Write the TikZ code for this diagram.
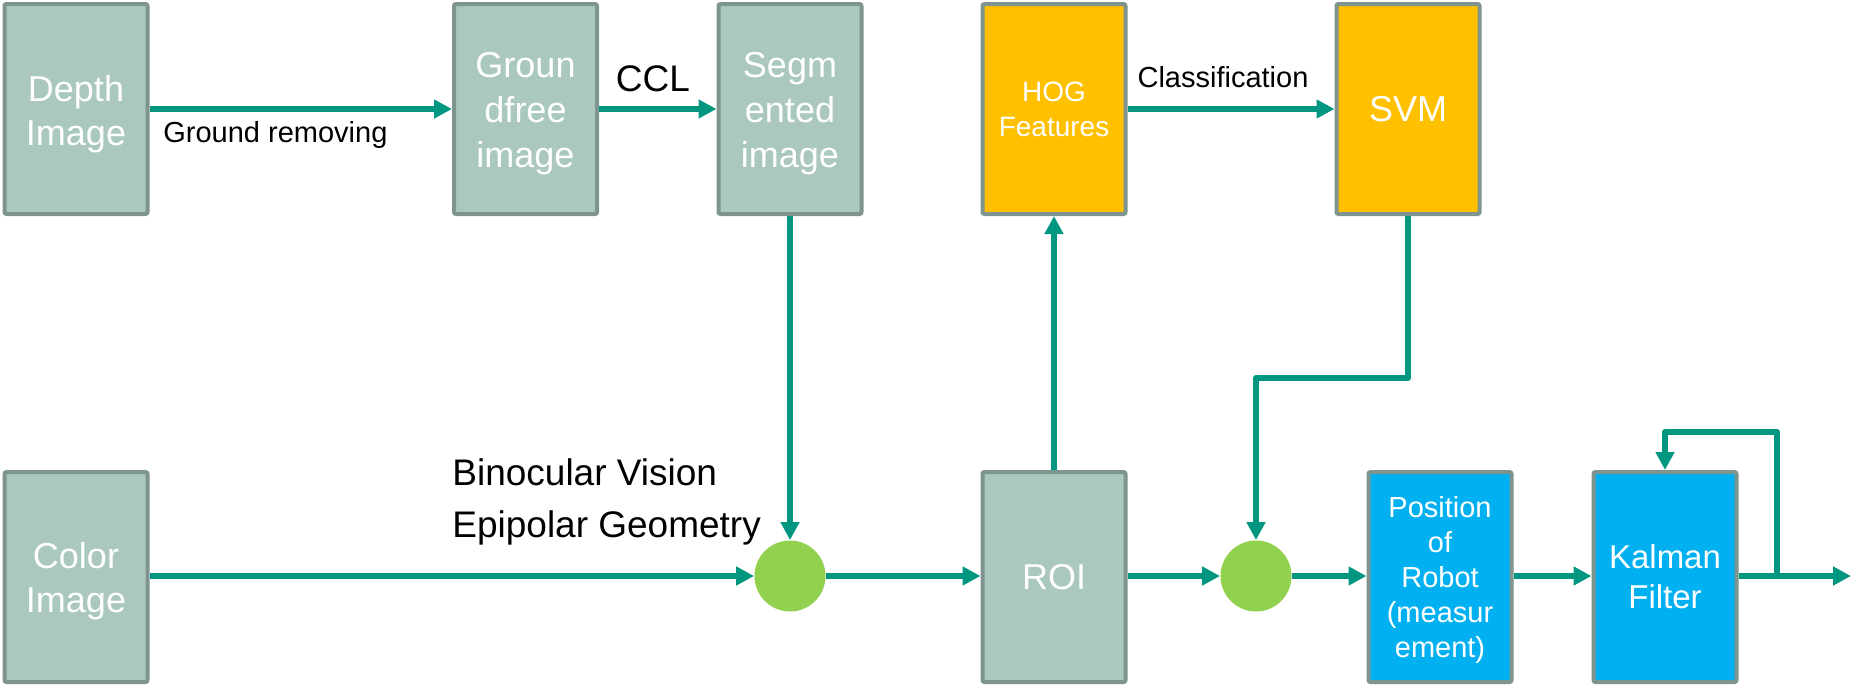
\documentclass[tikz,border=0pt]{standalone}
\usepackage{fontspec}
\setmainfont{Liberation Sans}
\usetikzlibrary{arrows.meta}
\definecolor{boxfill}{RGB}{170,200,192}
\definecolor{boxline}{RGB}{126,148,142}
\definecolor{arrowteal}{RGB}{0,150,128}
\definecolor{hogyellow}{RGB}{255,192,0}
\definecolor{kblue}{RGB}{0,176,240}
\definecolor{dotgreen}{RGB}{146,208,80}
\begin{document}
\begin{tikzpicture}[x=0.5pt,y=-0.5pt,
  box/.style={draw=boxline, line width=2pt, minimum width=71.5pt, minimum height=105pt,
    inner sep=0pt, align=center, text=white, rounded corners=1pt},
  graybox/.style={box, fill=boxfill, font=\fontsize{18}{22.5}\selectfont},
  yellowbox/.style={box, fill=hogyellow},
  bluebox/.style={box, fill=kblue},
  boxtext/.style={inner sep=0pt, align=center, text=white},
  flow/.style={draw=arrowteal, line width=3pt, line join=round,
    -{Triangle[length=9pt,width=9pt]}},
  junction/.style={circle, fill=dotgreen, minimum size=35.5pt, inner sep=0pt},
  lbl/.style={text=black, inner sep=0pt}]
\useasboundingbox (0,0) rectangle (1875,685);
% top row
\node[graybox] (depth) at (76,109) {};
\node[boxtext, font=\fontsize{18}{22}\selectfont] (depth-t) at (76,114) {Depth\\Image};
\node[graybox] (ground) at (525.5,109) {};
\node[boxtext, font=\fontsize{18}{22.5}\selectfont] (ground-t) at (525.5,114) {Groun\\dfree\\image};
\node[graybox] (seg) at (790,109) {};
\node[boxtext, font=\fontsize{18}{22.5}\selectfont] (seg-t) at (790,114) {Segm\\ented\\image};
\node[yellowbox, font=\fontsize{14}{17.5}\selectfont] (hog) at (1054,109) {HOG\\Features};
\node[yellowbox, font=\fontsize{18}{22}\selectfont] (svm) at (1408,109) {SVM};
% bottom row
\node[graybox] (color) at (76,577) {};
\node[boxtext, font=\fontsize{18}{22}\selectfont] (color-t) at (76,581) {Color\\Image};
\node[junction] (j1) at (790,576) {};
\node[graybox] (roi) at (1054,577) {ROI};
\node[junction] (j2) at (1256,576) {};
\node[bluebox] (pos) at (1440,577) {};
\node[boxtext, font=\fontsize{14.5}{17.5}\selectfont] (pos-t) at (1440,580) {Position\\of\\Robot\\(measur\\ement)};
\node[bluebox, font=\fontsize{16.5}{20}\selectfont] (kal) at (1665,577) {Kalman\\Filter};
% labels
\node[lbl, anchor=west, font=\fontsize{14.5}{17}\selectfont] (lgr) at (163,135) {Ground removing};
\node[lbl, font=\fontsize{18.5}{22}\selectfont] (lccl) at (653,79) {CCL};
\node[lbl, font=\fontsize{14.5}{17}\selectfont] (lcls) at (1223,77) {Classification};
\node[lbl, anchor=base west, font=\fontsize{18.5}{22}\selectfont] (lbin) at (452,485) {Binocular Vision};
\node[lbl, anchor=base west, font=\fontsize{18.5}{22}\selectfont] (lepi) at (452,537) {Epipolar Geometry};
% coordinates
\coordinate (svmbend) at (1408,378);
\coordinate (out) at (1851,576);
\coordinate (fbstart) at (1777,576);
\coordinate (fb) at (1777,432);
% connectors
\draw[flow] (depth) -- (ground);
\draw[flow] (ground) -- (seg);
\draw[flow] (hog) -- (svm);
\draw[flow] (seg) -- (j1);
\draw[flow] (color.east |- j1) -- (j1);
\draw[flow] (j1) -- (roi.west |- j1);
\draw[flow] (roi) -- (hog);
\draw[flow] (roi.east |- j2) -- (j2);
\draw[flow] (svm.south) -- (svmbend) -| (j2.north);
\draw[flow] (j2) -- (pos.west |- j2);
\draw[flow] (pos.east |- j2) -- (kal.west |- j2);
\draw[flow] (kal.east |- j2) -- (out);
\draw[flow] (fbstart) -- (fb) -| (kal.north);
\end{tikzpicture}
\end{document}
